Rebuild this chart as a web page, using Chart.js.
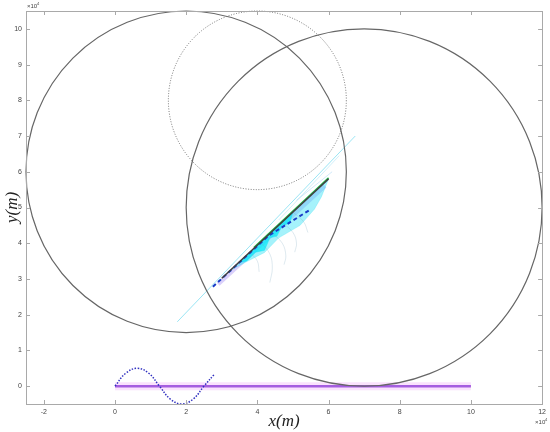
<!DOCTYPE html>
<html>
<head>
<meta charset="utf-8">
<script src="https://cdn.jsdelivr.net/npm/chart.js@4.4.1/dist/chart.umd.min.js"></script>
<style>
  body { margin: 0; background: #fff; }
  #wrap { width: 550px; height: 432px; }
</style>
</head>
<body>
<div id="wrap"><canvas id="myChart" width="550" height="432"></canvas></div>
<script>
// axis ticks (values in units of 10^4 m)
var xTicks = [-2, 0, 2, 4, 6, 8, 10, 12];
var yTicks = [0, 1, 2, 3, 4, 5, 6, 7, 8, 9, 10];

// circles: centre and radius
var circleX = [2, 7, 4];
var circleY = [6, 5, 8];
var circleR = [4.5, 5, 2.5];

// purple baseline
var baseX = [0, 10];
var baseY = [0, 0];

// blue dotted wave
var waveX = [0, 0.3, 0.625, 0.95, 1.25, 1.55, 1.875, 2.2, 2.5, 2.8];
var waveY = [0, 0.36, 0.5, 0.36, 0, -0.36, -0.5, -0.36, 0, 0.34];

// long light cyan line
var cyanX = [1.75, 6.75];
var cyanY = [1.8, 7.0];

// dark trajectory
var darkX = [3.0, 6.0];
var darkY = [3.02, 5.8];

// green trajectory
var greenX = [3.9, 6.0];
var greenY = [3.88, 5.83];

// dashed blue trajectory
var dashX = [2.75, 4.3, 5.5];
var dashY = [2.78, 4.2, 4.95];

// lavender band
var bandX = [2.9, 5.9];
var bandY = [2.85, 5.6];

// cyan fan, light outer outline
var fanX = [3.3, 6.0, 5.8, 5.6, 5.2, 4.6, 4.2, 3.65, 3.3];
var fanY = [3.27, 5.8, 5.3, 4.95, 4.5, 4.15, 3.74, 3.46, 3.27];

// cyan fan, saturated inner outline
var coreX = [3.5, 5.0, 4.9, 4.7, 4.55, 4.35, 4.2, 3.95, 3.7, 3.5];
var coreY = [3.46, 4.87, 4.55, 4.5, 4.2, 4.15, 3.8, 3.75, 3.5, 3.46];

// faint fan curves
var curve1X = [4.1, 4.35, 4.42, 4.35];
var curve1Y = [4.02, 3.7, 3.3, 2.9];
var curve2X = [4.4, 4.7, 4.8, 4.75];
var curve2Y = [4.3, 4.0, 3.65, 3.4];
var curve3X = [4.7, 5.0, 5.1, 5.05];
var curve3Y = [4.58, 4.3, 4.0, 3.75];
var curve4X = [5.0, 5.3, 5.42];
var curve4Y = [4.87, 4.6, 4.3];
var curve5X = [3.8, 4.0, 4.05];
var curve5Y = [3.74, 3.5, 3.2];
var curve6X = [4.6, 6.3];
var curve6Y = [4.65, 6.45];
var curve7X = [5.1, 6.1];
var curve7Y = [5.2, 6.0];

function pts(xs, ys) {
    var out = [];
    for (var i = 0; i < xs.length; i++) {
        out.push({x: xs[i], y: ys[i]});
    }
    return out;
}

function line(xs, ys, color, width, extra) {
    var ds = {
        data: pts(xs, ys),
        borderColor: color,
        borderWidth: width,
        pointRadius: 0,
        fill: false,
        tension: 0
    };
    for (var k in extra) ds[k] = extra[k];
    return ds;
}

var frameColor = '#a9a9a9';
var faint = 'rgba(120,165,190,0.35)';

var framePlugin = {
    id: 'frame',
    afterDatasetsDraw: function(chart) {
        var ctx = chart.ctx;
        var xs = chart.scales.x, ys = chart.scales.y;
        var a = chart.chartArea;
        ctx.save();
        // circles
        for (var i = 0; i < circleX.length; i++) {
            var cx = xs.getPixelForValue(circleX[i]);
            var cy = ys.getPixelForValue(circleY[i]);
            var rx = Math.abs(xs.getPixelForValue(circleX[i] + circleR[i]) - cx);
            var ry = Math.abs(ys.getPixelForValue(circleY[i] + circleR[i]) - cy);
            ctx.beginPath();
            ctx.ellipse(cx, cy, rx, ry, 0, 0, Math.PI * 2);
            if (i == 2) {
                ctx.setLineDash([1, 1.6]);
                ctx.strokeStyle = '#707070';
                ctx.lineWidth = 1;
            } else {
                ctx.setLineDash([]);
                ctx.strokeStyle = '#666666';
                ctx.lineWidth = 1.2;
            }
            ctx.stroke();
        }
        ctx.setLineDash([]);
        // box
        ctx.strokeStyle = frameColor;
        ctx.lineWidth = 1;
        ctx.strokeRect(Math.round(a.left) + 0.5, Math.round(a.top) + 0.5,
                       Math.round(a.right - a.left), Math.round(a.bottom - a.top));
        // inward ticks
        ctx.beginPath();
        xTicks.forEach(function(v) {
            var px = Math.round(xs.getPixelForValue(v)) + 0.5;
            ctx.moveTo(px, a.bottom); ctx.lineTo(px, a.bottom - 4);
            ctx.moveTo(px, a.top); ctx.lineTo(px, a.top + 4);
        });
        yTicks.forEach(function(v) {
            var py = Math.round(ys.getPixelForValue(v)) + 0.5;
            ctx.moveTo(a.left, py); ctx.lineTo(a.left + 4, py);
            ctx.moveTo(a.right, py); ctx.lineTo(a.right - 4, py);
        });
        ctx.stroke();
        // exponent labels
        ctx.fillStyle = '#444';
        ctx.font = '6px "Liberation Sans"';
        ctx.textBaseline = 'alphabetic';
        ctx.textAlign = 'left';
        ctx.fillText('\u00d710', a.left + 1, a.top - 3);
        ctx.font = '4px "Liberation Sans"';
        ctx.fillText('4', a.left + 11, a.top - 6);
        ctx.font = '6px "Liberation Sans"';
        ctx.fillText('\u00d710', a.right - 7, a.bottom + 20);
        ctx.font = '4px "Liberation Sans"';
        ctx.fillText('4', a.right + 3, a.bottom + 17);
        ctx.restore();
    }
};

var tickFont = {family: 'Liberation Sans', size: 7};

var ctx = document.getElementById('myChart');

var myChart = new Chart(ctx, {
    type: 'line',
    data: {
        datasets: [
            line(darkX, darkY, '#404040', 1.5),
            line(greenX, greenY, '#1fbf4a', 1.5),
            line(dashX, dashY, '#1a3cc8', 2, {borderDash: [4, 3]}),
            line(curve1X, curve1Y, faint, 0.7, {tension: 0.4}),
            line(curve2X, curve2Y, faint, 0.7, {tension: 0.4}),
            line(curve3X, curve3Y, faint, 0.7, {tension: 0.4}),
            line(curve4X, curve4Y, faint, 0.7, {tension: 0.4}),
            line(curve5X, curve5Y, faint, 0.7, {tension: 0.4}),
            line(curve6X, curve6Y, 'rgba(140,215,240,0.5)', 0.8),
            line(curve7X, curve7Y, 'rgba(140,200,240,0.5)', 0.8),
            line(coreX, coreY, 'rgba(0,225,245,0.6)', 0.6, {fill: 'shape', backgroundColor: 'rgba(0,235,250,0.7)'}),
            line(fanX, fanY, 'rgba(40,220,240,0.45)', 0.6, {fill: 'shape', backgroundColor: 'rgba(40,225,245,0.42)'}),
            line(bandX, bandY, 'rgba(150,120,240,0.35)', 4),
            line(cyanX, cyanY, 'rgba(120,220,240,0.75)', 1),
            line(waveX, waveY, '#3030c0', 1.5, {borderDash: [1.5, 1.5], tension: 0.4}),
            line(baseX, baseY, '#a55ee0', 2.5),
            line(baseX, baseY, 'rgba(245,190,250,0.45)', 8)
        ]
    },
    options: {
        responsive: false,
        animation: false,
        layout: {padding: {top: 11, right: 6, left: 0, bottom: 0}},
        plugins: {
            legend: {display: false},
            tooltip: {enabled: false}
        },
        scales: {
            x: {
                type: 'linear',
                min: -2.5,
                max: 12,
                afterBuildTicks: function(s) { s.ticks = xTicks.map(function(v) { return {value: v}; }); },
                afterFit: function(s) { s.height = 28; },
                grid: {display: false, drawTicks: false},
                border: {display: false},
                ticks: {font: tickFont, color: '#444', padding: 4, maxRotation: 0, autoSkip: false},
                title: {
                    display: true,
                    text: 'x(m)',
                    color: '#222',
                    padding: 0,
                    font: {family: 'Liberation Serif', style: 'italic', size: 17}
                }
            },
            y: {
                type: 'linear',
                min: -0.5,
                max: 10.5,
                afterBuildTicks: function(s) { s.ticks = yTicks.map(function(v) { return {value: v}; }); },
                afterFit: function(s) { s.width = 26; },
                grid: {display: false, drawTicks: false},
                border: {display: false},
                ticks: {font: tickFont, color: '#444', padding: 4, autoSkip: false},
                title: {
                    display: true,
                    text: 'y(m)',
                    color: '#222',
                    padding: {top: 2, bottom: 0},
                    font: {family: 'Liberation Serif', style: 'italic', size: 17}
                }
            }
        }
    },
    plugins: [framePlugin]
});
</script>
</body>
</html>
